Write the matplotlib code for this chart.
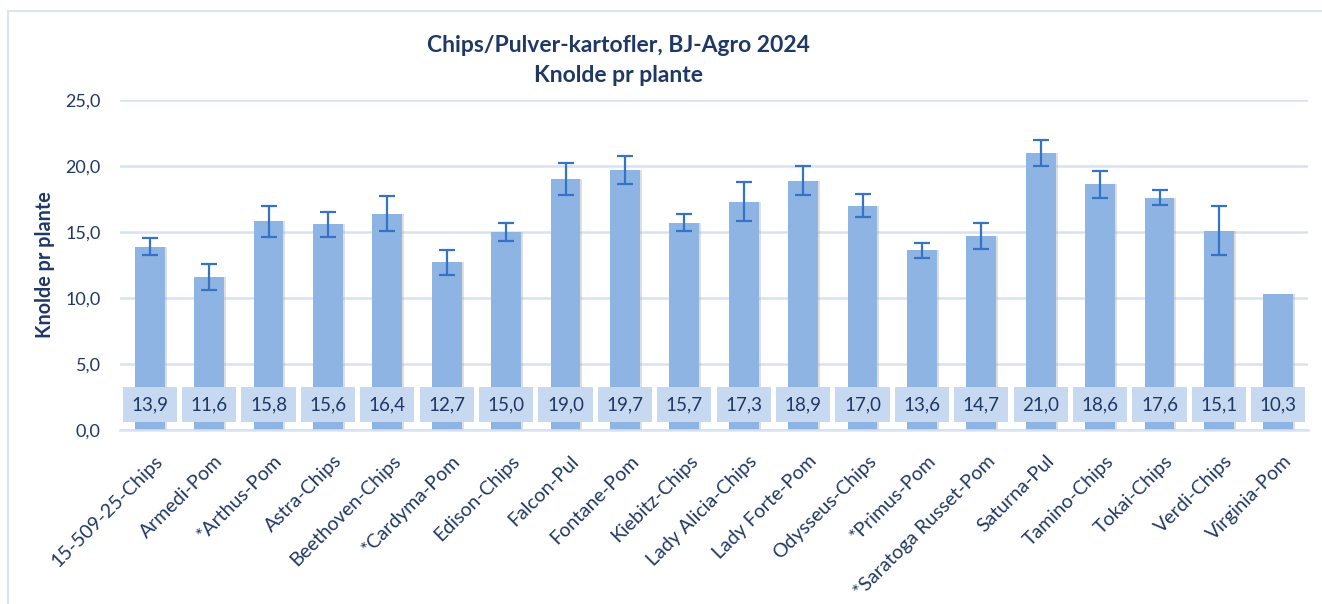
import matplotlib.pyplot as plt
from matplotlib.patches import Rectangle
from matplotlib.lines import Line2D
import numpy as np

sorter = ["15-509-25-Chips", "Armedi-Pom", "*Arthus-Pom", "Astra-Chips", "Beethoven-Chips",
          "*Cardyma-Pom", "Edison-Chips", "Falcon-Pul", "Fontane-Pom", "Kiebitz-Chips",
          "Lady Alicia-Chips", "Lady Forte-Pom", "Odysseus-Chips", "*Primus-Pom",
          "*Saratoga Russet-Pom", "Saturna-Pul", "Tamino-Chips", "Tokai-Chips",
          "Verdi-Chips", "Virginia-Pom"]
knolde = [13.9, 11.6, 15.8, 15.6, 16.4, 12.7, 15.0, 19.0, 19.7, 15.7,
          17.3, 18.9, 17.0, 13.6, 14.7, 21.0, 18.6, 17.6, 15.1, 10.3]
fejl = [0.65, 1.0, 1.15, 0.95, 1.35, 0.95, 0.65, 1.2, 1.05, 0.65,
        1.5, 1.1, 0.9, 0.55, 1.0, 1.0, 1.05, 0.55, 1.85, 0.0]
yticks = [0, 5, 10, 15, 20, 25]

navy = "#1F3864"
plt.rcParams['font.family'] = ['Lato', 'DejaVu Sans']

fig = plt.figure(figsize=(13.22, 6.04), dpi=100)
# chart frame (left + top edge visible)
fig.lines.append(Line2D([7.5/1322, 7.5/1322], [0, 1 - 11/604], transform=fig.transFigure,
                        color="#DAE3F3", linewidth=1.5))
fig.lines.append(Line2D([7.5/1322, 1], [1 - 11/604, 1 - 11/604], transform=fig.transFigure,
                        color="#DAE3F3", linewidth=1.5))
ax = fig.add_axes([120/1322, 1 - 430/604, 1188/1322, 330/604])

x = np.arange(len(sorter))
# soft shadow like the excel bars
ax.bar(x + 0.035, knolde, width=0.5, color="#A6A6A6", alpha=0.35, zorder=1.5)
ax.bar(x, knolde, width=0.5, color="#8EB4E3", zorder=2)
errx = [i for i in x if fejl[i] > 0]
ax.errorbar(errx, [knolde[i] for i in errx], yerr=[fejl[i] for i in errx],
            fmt="none", ecolor="#3473C5", elinewidth=1.6, capsize=5.5,
            capthick=1.6, zorder=3)

for i, v in enumerate(knolde):
    ax.add_patch(Rectangle((i - 0.455, 0.6), 0.91, 2.66, facecolor="#C6D9F1",
                           edgecolor="none", zorder=4))
    ax.text(i, 1.93, f"{v:.1f}".replace(".", ","), ha="center", va="center",
            fontsize=13.5, color=navy, zorder=5)

ax.set_xlim(-0.5, len(sorter) - 0.5)
ax.set_ylim(0, 25)
ax.set_yticks(yticks)
ax.set_yticklabels([f"{t:.1f}".replace(".", ",") for t in yticks], fontsize=13)
ax.yaxis.grid(True, color="#D6E2F1", linewidth=1.8, zorder=0)
ax.set_axisbelow(True)
for s in ["top", "right", "left"]:
    ax.spines[s].set_visible(False)
ax.spines["bottom"].set_color("#D6E2F1")
ax.spines["bottom"].set_linewidth(1.8)
ax.spines["bottom"].set_zorder(6)
ax.set_xticks(x + 0.08)
ax.set_xticklabels(sorter, rotation=45, ha="right", rotation_mode="anchor", fontsize=14)
ax.tick_params(axis="both", length=0, labelcolor=navy)
ax.tick_params(axis="y", pad=14)
ax.tick_params(axis="x", pad=16)

fig.text(618/1322, 1 - 45/604, "Chips/Pulver-kartofler, BJ-Agro 2024", ha="center",
         va="center", fontsize=16.5, fontweight="bold", color=navy)
fig.text(618/1322, 1 - 76/604, "Knolde pr plante", ha="center", va="center",
         fontsize=16.5, fontweight="bold", color=navy)
fig.text(45/1322, 1 - 265/604, "Knolde pr plante", ha="center", va="center",
         rotation=90, fontsize=14.2, fontweight="bold", color=navy)

fig.savefig("out.png", dpi=100)
